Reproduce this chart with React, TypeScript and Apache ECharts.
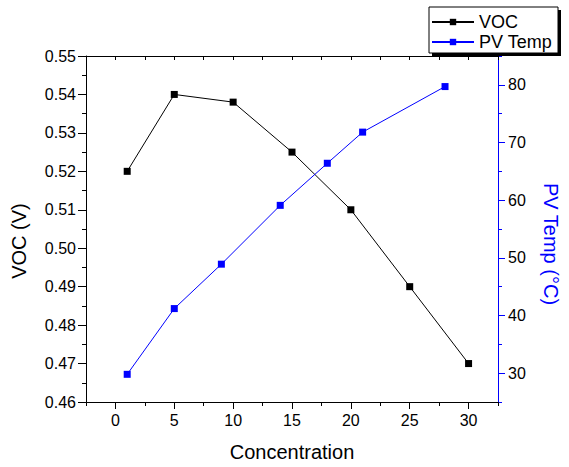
import React, { useEffect, useRef } from "react";
import * as echarts from "echarts";

const vocX = [1, 5, 10, 15, 20, 25, 30];
const vocValues = [0.52, 0.54, 0.538, 0.525, 0.51, 0.49, 0.47];
const tempX = [1, 5, 9, 14, 18, 21, 28];
const tempValues = [29.8, 41.2, 48.9, 59.1, 66.4, 71.8, 79.7];
const xMajorTicks = [0, 5, 10, 15, 20, 25, 30];
const tempMajorTicks = [30, 40, 50, 60, 70, 80];
const seriesNames = ["VOC", "PV Temp"];

const FONT = "Liberation Sans, Arial, sans-serif";
const BLUE = "#0000FF";

export default function App() {
  const ref = useRef<HTMLDivElement>(null);
  useEffect(() => {
    if (!ref.current) return;
    const chart = echarts.init(ref.current, undefined, { renderer: "svg" });
    const vocData = vocX.map((x, i) => [x, vocValues[i]]);
    const tempData = tempX.map((x, i) => [x, tempValues[i]]);
    chart.setOption({
      animation: false,
      textStyle: { fontFamily: FONT },
      grid: { left: 86, top: 56, right: 62, bottom: 65, containLabel: false },
      legend: {
        data: seriesNames,
        orient: "vertical",
        left: 431,
        top: 13,
        padding: 0,
        itemWidth: 42,
        itemHeight: 8,
        itemGap: 2,
        textStyle: { fontSize: 18, color: "#000", fontFamily: FONT },
        z: 10,
      },
      graphic: [
        { type: "rect", z: 1, shape: { x: 432, y: 10, width: 129, height: 46 }, style: { fill: "#000" } },
        { type: "rect", z: 2, shape: { x: 429, y: 7, width: 129, height: 46 }, style: { fill: "#fff", stroke: "#000", lineWidth: 1 } },
      ],
      xAxis: [
        {
          type: "value",
          min: -2.5,
          max: 32.5,
          interval: 2.5,
          position: "bottom",
          axisLine: { show: true, onZero: false, lineStyle: { color: "#000", width: 1 } },
          axisTick: { show: true, length: 4, lineStyle: { color: "#000" } },
          axisLabel: {
            formatter: (v: number) => (v % 5 === 0 && v >= 0 && v <= 30 ? String(v) : ""),
            fontSize: 16,
            color: "#000",
            margin: 10,
            fontFamily: FONT,
          },
          splitLine: { show: false },
          name: "Concentration",
          nameLocation: "middle",
          nameGap: 40,
          nameTextStyle: { fontSize: 20, color: "#000", fontFamily: FONT },
        },
        {
          type: "value",
          min: -2.5,
          max: 32.5,
          position: "bottom",
          axisLine: { show: false, onZero: false },
          axisTick: { show: true, length: 7, customValues: xMajorTicks, lineStyle: { color: "#000" } },
          axisLabel: { show: false },
          splitLine: { show: false },
        },
        {
          type: "value",
          min: -2.5,
          max: 32.5,
          interval: 2.5,
          position: "top",
          axisLine: { show: true, onZero: false, lineStyle: { color: "#000", width: 1 } },
          axisTick: { show: true, inside: true, length: 4, lineStyle: { color: "#000" } },
          axisLabel: { show: false },
          splitLine: { show: false },
        },
      ],
      yAxis: [
        {
          type: "value",
          min: 0.46,
          max: 0.55,
          interval: 0.01,
          position: "left",
          axisLine: { show: true, onZero: false, lineStyle: { color: "#000", width: 1 } },
          axisTick: { show: true, length: 8, lineStyle: { color: "#000" } },
          minorTick: { show: true, splitNumber: 2, length: 4, lineStyle: { color: "#000" } },
          axisLabel: {
            formatter: (v: number) => v.toFixed(2),
            fontSize: 16,
            color: "#000",
            margin: 10,
            fontFamily: FONT,
          },
          splitLine: { show: false },
          minorSplitLine: { show: false },
          name: "VOC (V)",
          nameLocation: "middle",
          nameGap: 57,
          nameTextStyle: { fontSize: 20, color: "#000", fontFamily: FONT, padding: [0, 24, 0, 0] },
        },
        {
          type: "value",
          min: 25,
          max: 85,
          interval: 5,
          position: "right",
          axisLine: { show: true, onZero: false, lineStyle: { color: BLUE, width: 1 } },
          axisTick: { show: true, length: 4, lineStyle: { color: BLUE } },
          axisLabel: {
            formatter: (v: number) => (v % 10 === 0 ? String(v) : ""),
            fontSize: 16,
            color: "#000",
            margin: 10,
            fontFamily: FONT,
          },
          splitLine: { show: false },
          name: "PV Temp (°C)",
          nameLocation: "middle",
          nameGap: 43,
          nameRotate: -90,
          nameTextStyle: { fontSize: 20, color: BLUE, fontFamily: FONT, padding: [0, 0, 0, 30] },
        },
        {
          type: "value",
          min: 25,
          max: 85,
          position: "right",
          axisLine: { show: false, onZero: false },
          axisTick: { show: true, length: 7, customValues: tempMajorTicks, lineStyle: { color: BLUE } },
          axisLabel: { show: false },
          splitLine: { show: false },
        },
      ],
      series: [
        {
          name: seriesNames[0],
          type: "line",
          xAxisIndex: 0,
          yAxisIndex: 0,
          data: vocData,
          symbol: "rect",
          symbolSize: 7,
          itemStyle: { color: "#000" },
          lineStyle: { color: "#000", width: 1 },
          z: 3,
        },
        {
          name: seriesNames[1],
          type: "line",
          xAxisIndex: 0,
          yAxisIndex: 1,
          data: tempData,
          symbol: "rect",
          symbolSize: 7,
          itemStyle: { color: BLUE },
          lineStyle: { color: BLUE, width: 1 },
          z: 3,
        },
      ],
    });
    return () => chart.dispose();
  }, []);
  return (
    <div
      ref={ref}
      style={{ position: "fixed", left: 0, top: 0, width: 569, height: 467, background: "#fff" }}
    />
  );
}
